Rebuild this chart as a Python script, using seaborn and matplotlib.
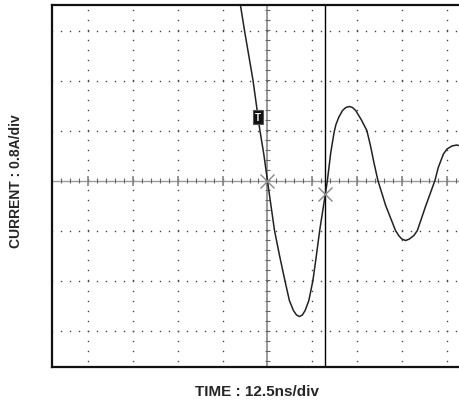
import numpy as np
import pandas as pd
import matplotlib
matplotlib.use('Agg')
import matplotlib.pyplot as plt
import seaborn as sns

# trace, in divisions (x: 12.5 ns/div, y: 0.8 A/div)
time_div = [-0.65, -0.603, -0.512, -0.323, -0.169, -0.08, 0.0, 0.158, 0.27, 0.39,
            0.49, 0.58, 0.65, 0.716, 0.78, 0.842, 0.925, 1.016, 1.09, 1.167,
            1.293, 1.339, 1.415, 1.49, 1.53, 1.596, 1.677, 1.75, 1.828, 1.90,
            1.971, 2.093, 2.22, 2.30, 2.38, 2.467, 2.64, 2.86, 2.93, 3.0,
            3.086, 3.17, 3.27, 3.348, 3.53, 3.74, 3.815, 3.93, 4.01, 4.12,
            4.228, 4.31, 4.38]
current_div = [3.78, 3.51, 3.00, 2.01, 1.01, 0.52, 0.0, -1.00, -1.50, -2.00,
               -2.40, -2.60, -2.69, -2.72, -2.69, -2.60, -2.40, -2.00, -1.52, -1.00,
               -0.27, 0.0, 0.564, 0.97, 1.12, 1.27, 1.40, 1.46, 1.48, 1.46,
               1.40, 1.22, 1.00, 0.70, 0.35, 0.0, -0.50, -1.00, -1.10, -1.17,
               -1.20, -1.17, -1.10, -1.00, -0.52, 0.0, 0.26, 0.53, 0.63, 0.69,
               0.71, 0.69, 0.66]

cursor_t = 1.293
cross_t = [0.0, 1.293]
cross_i = [0.0, -0.27]
trig_t, trig_i = -0.21, 1.27

xmin, xmax = -4.81, 4.38
ymin, ymax = -3.73, 3.51

sns.set_style('white')
plt.rcParams['font.family'] = ['Liberation Sans', 'DejaVu Sans']

df = pd.DataFrame({'t': time_div, 'i': current_div})

fig = plt.figure(figsize=(4.59, 4.02), dpi=100)
ax = fig.add_axes([52/459, 1 - 368/402, 1 - 52/459 + 0.01, (368 - 6)/402])

# dotted graticule
for gx in [-4, -3, -2, -1, 1, 2, 3, 4]:
    yy = np.arange(-3.6, 3.6, 0.2)
    ax.plot(np.full_like(yy, gx), yy, ls='none', marker='s', ms=1.0, color='#444', mew=0)
for gy in [-3, -2, -1, 1, 2, 3]:
    xx = np.arange(-4.8, 4.5, 0.2)
    ax.plot(xx, np.full_like(xx, gy), ls='none', marker='s', ms=1.0, color='#444', mew=0)

# centre axes with small ticks
ax.axhline(0, color='#9a9a9a', lw=1.0, zorder=1)
ax.axvline(0, color='#9a9a9a', lw=1.4, zorder=1)
xt = np.arange(-4.8, 4.5, 0.2)
ax.vlines(xt, -0.05, 0.05, color='#666', lw=0.8)
ax.vlines(np.arange(-4, 5, 1.0), -0.1, 0.1, color='#888', lw=1.2)
yt = np.arange(-3.6, 3.6, 0.2)
ax.hlines(yt, -0.06, 0.06, color='#666', lw=0.8)

# cursor line
ax.axvline(cursor_t, color='black', lw=1.0, zorder=3)

sns.lineplot(data=df, x='t', y='i', ax=ax, color='#222', lw=1.1, sort=False, zorder=4)

ax.plot(cross_t, cross_i, ls='none', marker='x', ms=10, mew=1.0, color='#888', zorder=5)
ax.text(trig_t, trig_i, 'T', color='white', fontsize=7, fontweight='bold',
        ha='center', va='center', zorder=6,
        bbox=dict(boxstyle='square,pad=0.25', fc='#111', ec='#555', lw=0.8))

ax.set_xlim(xmin, xmax)
ax.set_ylim(ymin, ymax)
ax.set_xticks([])
ax.set_yticks([])
ax.set_xlabel('')
ax.set_ylabel('')
for s in ['left', 'top', 'bottom']:
    ax.spines[s].set_linewidth(1.6)
    ax.spines[s].set_color('#111')
ax.spines['right'].set_visible(False)

fig.text(257/459, 1 - 392/402, 'TIME : 12.5ns/div', ha='center', va='center',
         fontsize=11, fontweight='bold')
fig.text(16/459, 1 - 181/402, 'CURRENT : 0.8A/div', ha='center', va='center',
         rotation=90, fontsize=10, fontweight='bold')

fig.savefig('out.png', dpi=100, facecolor='white')
